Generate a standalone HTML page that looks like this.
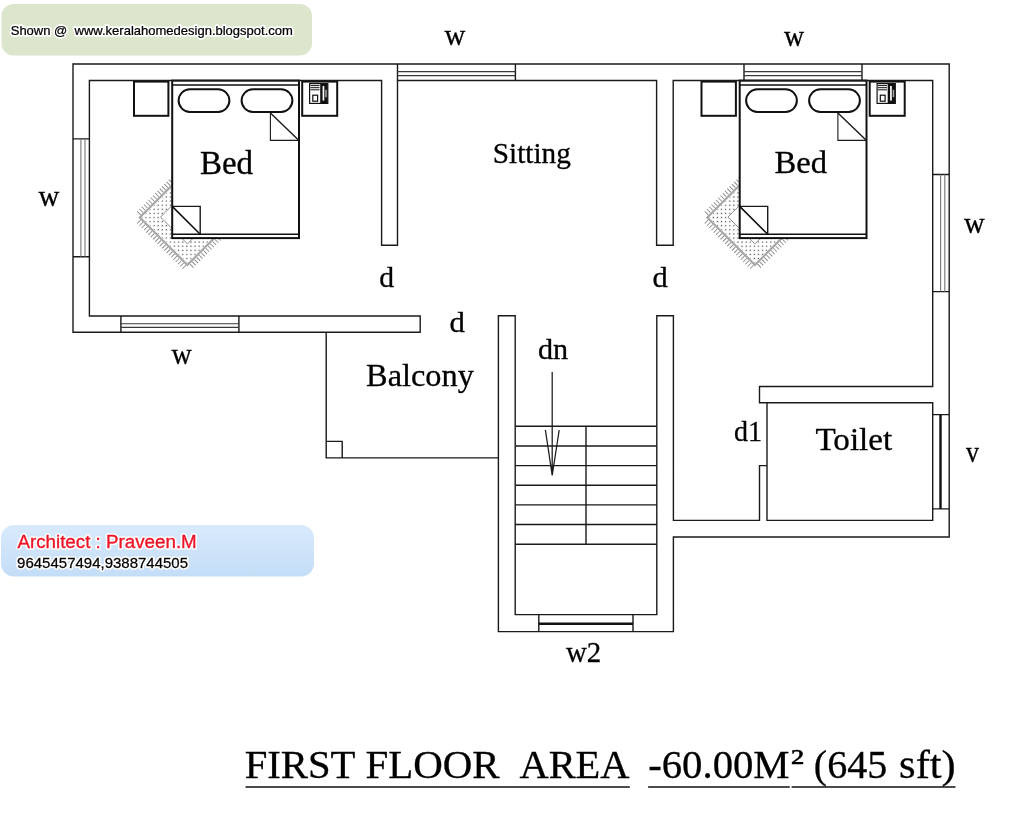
<!DOCTYPE html>
<html><head><meta charset="utf-8"><title>First Floor Plan</title>
<style>
html,body{margin:0;padding:0;background:#fff;}
body{width:1024px;height:819px;overflow:hidden;position:relative;}
svg{position:absolute;left:0;top:0;display:block;will-change:transform;}
text{font-family:"Liberation Serif",serif;fill:#000;}
.w{stroke:#1a1a1a;stroke-width:1.4;fill:none;}
.g{stroke:#666;stroke-width:1.1;fill:none;}
.t{stroke:#1a1a1a;stroke-width:1.1;fill:none;}
.b{stroke:#111;stroke-width:2;fill:none;}
.bf{stroke:#111;stroke-width:2;fill:#fff;}
.halo{fill:#fff;stroke:#fff;stroke-width:3.6;stroke-linejoin:round;}
.k{stroke:#111;stroke-width:2.4;fill:none;}
.lb{stroke:#000;stroke-width:0.3;}
.sans{font-family:"Liberation Sans",sans-serif;}
</style></head><body>
<svg width="1024" height="819" viewBox="0 0 1024 819">
<defs>
<linearGradient id="bg" x1="0" y1="0" x2="0" y2="1"><stop offset="0" stop-color="#d9eafc"/><stop offset="1" stop-color="#c4ddf7"/></linearGradient>
<filter id="glow" x="-5%" y="-30%" width="110%" height="160%"><feMorphology in="SourceAlpha" operator="dilate" radius="1.6" result="d"/><feGaussianBlur in="d" stdDeviation="0.8" result="b"/><feFlood flood-color="#fff"/><feComposite in2="b" operator="in" result="h"/><feMerge><feMergeNode in="h"/><feMergeNode in="SourceGraphic"/></feMerge></filter>
<filter id="soft" x="-5%" y="-40%" width="110%" height="180%"><feGaussianBlur stdDeviation="0.5"/></filter>
<pattern id="dots" width="5.8" height="5.8" patternUnits="userSpaceOnUse"><circle cx="1.3" cy="1.5" r="0.72" fill="#3c3c3c"/><circle cx="4.2" cy="4.3" r="0.72" fill="#3c3c3c"/></pattern>

<g id="bedset">
<!-- rug -->
<g transform="translate(139.8,217.4) rotate(-45)">
<rect x="1.5" y="1.5" width="62" height="64.3" fill="url(#dots)" stroke="none"/>
<rect x="0" y="0" width="64" height="67.3" fill="none" stroke="#a6a6a6" stroke-width="2.1"/>
<rect x="14.9" y="14.4" width="40" height="38" fill="#fff" stroke="#888" stroke-width="0.9"/>
<line x1="-3.7" y1="0.5" x2="-3.7" y2="67" stroke="#888" stroke-width="5" stroke-dasharray="0.9 2.3" stroke-dashoffset="-1.5"/>
<line x1="0.5" y1="-3.7" x2="64" y2="-3.7" stroke="#888" stroke-width="5" stroke-dasharray="0.9 2.3" stroke-dashoffset="-1.5"/>
<line x1="0.5" y1="71" x2="64" y2="71" stroke="#888" stroke-width="5" stroke-dasharray="0.9 2.3" stroke-dashoffset="-1.5"/>
</g>
<!-- nightstand left -->
<rect x="134" y="81.6" width="34.4" height="34.2" class="bf"/>
<!-- bed -->
<rect x="172.2" y="80.6" width="126.8" height="157.5" class="bf"/>
<line x1="172.2" y1="85" x2="299" y2="85" stroke="#111" stroke-width="1.7"/>
<line x1="172.2" y1="234.3" x2="299" y2="234.3" stroke="#111" stroke-width="1.5"/>
<rect x="178.6" y="89.3" width="50.8" height="22.6" rx="11.3" ry="11.3" class="b"/>
<rect x="241.6" y="89.3" width="50.8" height="22.6" rx="11.3" ry="11.3" class="b"/>
<path d="M270.4 113V140.4H299" class="t"/>
<line x1="270.4" y1="113" x2="299" y2="140.4" class="w"/>
<path d="M172.2 206.4H200.2V234.3" class="w"/>
<line x1="172.2" y1="206.4" x2="200.2" y2="234.3" stroke="#111" stroke-width="1.6"/>
<!-- nightstand right with phone -->
<rect x="302.2" y="81.6" width="35" height="34.2" class="bf"/>
<rect x="309.6" y="83.6" width="18.2" height="19.8" fill="#fff" stroke="#111" stroke-width="1.2"/>
<rect x="320.2" y="84" width="7.4" height="19.2" fill="#111"/>
<rect x="322.6" y="86" width="1.7" height="14.6" fill="#fff"/>
<rect x="325.2" y="89.8" width="1.5" height="7.4" fill="#aaa"/>
<path d="M310.5 85.6H319.5M310.5 87.7H319.5M310.5 89.8H319.5" stroke="#111" stroke-width="1"/>
<rect x="312.8" y="95.2" width="4.8" height="6" fill="#fff" stroke="#111" stroke-width="1.2"/>
</g>
</defs>

<rect x="1.5" y="4" width="310.5" height="51.5" rx="12" ry="12" fill="#dbe6cd"/>
<rect x="1" y="525" width="313" height="51.5" rx="13" ry="13" fill="url(#bg)"/>
<use href="#bedset"/>
<use href="#bedset" x="567.5"/>
<g class="w">
<path d="M73 64H949.2V537H673.4V631.6H498.4V315.8H515.2V614.6H656.8V315.8H673.4V520.4H759.5V465.6H767"/>
<path d="M767 402.8H932.7V520.4H767Z"/>
<path d="M767 402.8H759.5V386.5H932.7V80.5H673.2V245.2H656.6V80.5H397.5V245.2H381.6V80.5H89.4V316H420.2V332.2H73V63.3"/>
<!-- window jambs -->
<path d="M397.5 64V80.5M515.4 64V80.5M744 64V80.5M862 64V80.5"/>
<path d="M73 138.9H89.4M73 256.8H89.4M932.7 174.5H949.2M932.7 291.6H949.2"/>
<path d="M120.9 316V332.2M238.9 316V332.2"/>
<path d="M932.7 414.6H949.2M932.7 508.9H949.2M538.8 614.6V631.6M633 614.6V631.6"/>
<!-- balcony -->
<path d="M326.2 332.2V457.9H498.4M326.2 441.4H342.2V457.9"/>
<!-- stairs -->
<path d="M515.2 426.3H656.8M515.2 445.95H656.8M515.2 465.6H656.8M515.2 485.25H656.8M515.2 504.9H656.8M515.2 524.55H656.8M515.2 544.2H656.8M586 426.3V544.2"/>
</g>
<g class="t" style="stroke-width:1.25"><path d="M552.2 372V475M545.4 430L552.2 475.4L559.2 430"/></g>
<g class="g" style="stroke:#3a3a3a">
<path d="M397.5 71.6H515.4M397.5 75.6H515.4M744 71.6H862M744 75.6H862"/>
<path d="M120.9 323.8H238.9M120.9 327.4H238.9"/>
</g>
<g class="g" style="stroke:#777">
<path d="M80.9 138.9V256.8M85 138.9V256.8M940.6 174.5V291.6M944.8 174.5V291.6"/>
</g>
<g class="k"><path d="M940.5 414.6V508.9M538.8 623.8H633"/></g>

<text class="lb" transform="translate(444.6,44.6) scale(0.976,1)" font-size="29.6">w</text>
<text class="lb" transform="translate(783.9,45.6) scale(0.943,1)" font-size="29.6">w</text>
<text class="lb" transform="translate(38.4,206.3) scale(0.962,1)" font-size="30.0">w</text>
<text class="lb" transform="translate(964.1,232.9) scale(0.985,1)" font-size="29.1">w</text>
<text class="lb" transform="translate(171.5,364.1) scale(0.947,1)" font-size="29.6">w</text>
<text class="lb" transform="translate(199.9,173.7) scale(1.005,1)" font-size="32.8">Bed</text>
<text class="lb" transform="translate(774.6,172.6) scale(1.014,1)" font-size="32.2">Bed</text>
<text class="lb" transform="translate(492.8,162.5) scale(0.995,1)" font-size="29.4">Sitting</text>
<text class="lb" transform="translate(379.2,286.6) scale(1.004,1)" font-size="29.5">d</text>
<text class="lb" transform="translate(449.5,332.3) scale(1.067,1)" font-size="28.8">d</text>
<text class="lb" transform="translate(652.5,287.1) scale(1.075,1)" font-size="28.4">d</text>
<text class="lb" transform="translate(366.1,386.3) scale(1.007,1)" font-size="32.1">Balcony</text>
<text class="lb" transform="translate(538.0,358.9) scale(1.044,1)" font-size="28.9">dn</text>
<text class="lb" transform="translate(734.0,441.0) scale(0.970,1)" font-size="28.9">d1</text>
<text class="lb" transform="translate(815.4,449.5) scale(1.033,1)" font-size="32.1">Toilet</text>
<text class="lb" transform="translate(966.0,461.6) scale(0.905,1)" font-size="28.7">v</text>
<text class="lb" transform="translate(565.9,661.5) scale(0.956,1)" font-size="30.2">w2</text>
<text class="lb" transform="translate(790.6,774.4) scale(1.268,1)" font-size="35.7">²</text>
<text class="lb" transform="translate(244.7,778.3) scale(1.017,1)" font-size="40">FIRST</text>
<text class="lb" transform="translate(365.4,778.3) scale(1.023,1)" font-size="40">FLOOR</text>
<text class="lb" transform="translate(519.4,778.3) scale(1.012,1)" font-size="40">AREA</text>
<text class="lb" transform="translate(648.2,778.3) scale(1.018,1)" font-size="40">-60.00M</text>
<text class="lb" transform="translate(813.8,778.3) scale(1.001,1)" font-size="40">(645</text>
<text class="lb" transform="translate(899.1,778.3) scale(1.062,1)" font-size="40">sft)</text>
<path d="M245.5 787H629.8M648.1 787H789.8M791.6 787H955.5" stroke="#111" stroke-width="1.7"/>
<text class="sans halo" transform="translate(10.7,35.3) scale(1.001,1)" font-size="13.0" xml:space="preserve" filter="url(#soft)" >Shown @  www.keralahomedesign.blogspot.com</text>
<text class="sans" transform="translate(10.7,35.3) scale(1.001,1)" font-size="13.0" xml:space="preserve" style="fill:#000;stroke:#000;stroke-width:0.25" >Shown @  www.keralahomedesign.blogspot.com</text>
<text class="sans halo" transform="translate(17.4,547.5) scale(0.988,1)" font-size="19.0" xml:space="preserve" filter="url(#soft)" >Architect : Praveen.M</text>
<text class="sans" transform="translate(17.4,547.5) scale(0.988,1)" font-size="19.0" xml:space="preserve" style="fill:#ee1428;stroke:#ee1428;stroke-width:0.35" >Architect : Praveen.M</text>
<text class="sans halo" transform="translate(17.1,568.0) scale(0.987,1)" font-size="15.2" xml:space="preserve" filter="url(#soft)" >9645457494,9388744505</text>
<text class="sans" transform="translate(17.1,568.0) scale(0.987,1)" font-size="15.2" xml:space="preserve" style="fill:#000;stroke:#000;stroke-width:0.25" >9645457494,9388744505</text>
</svg></body></html>
